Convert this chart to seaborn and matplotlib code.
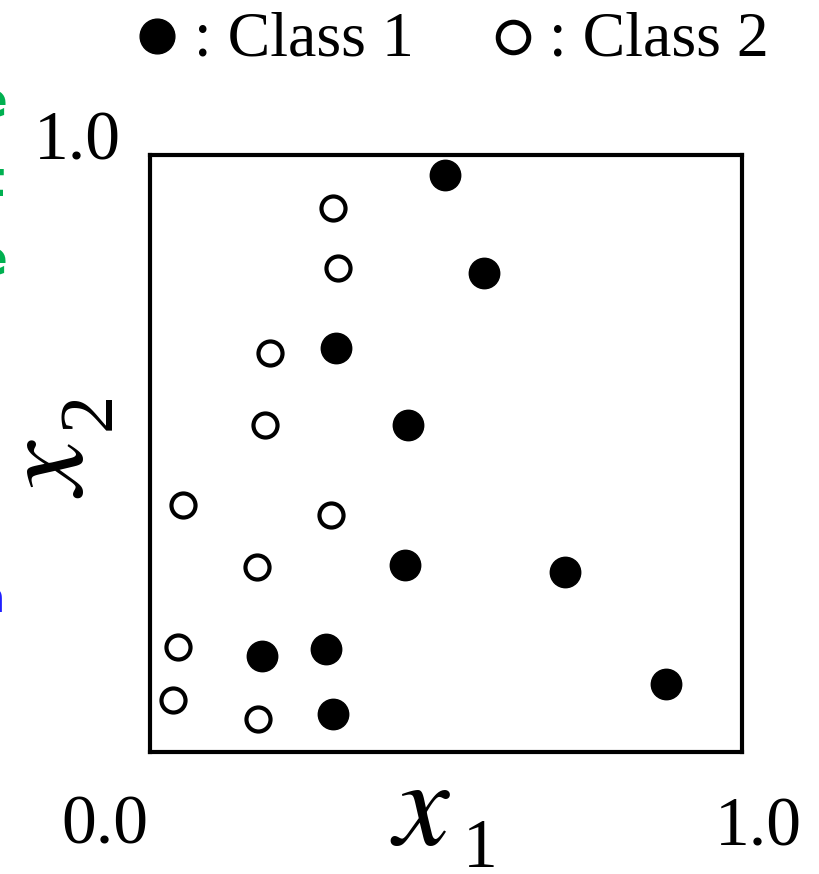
import matplotlib
matplotlib.use("Agg")
import matplotlib.pyplot as plt
import seaborn as sns
import pandas as pd
from matplotlib.lines import Line2D

# Data
class1_x = [0.498, 0.564, 0.314, 0.436, 0.431, 0.701, 0.189, 0.297, 0.872, 0.309]
class1_y = [0.966, 0.802, 0.677, 0.548, 0.313, 0.302, 0.161, 0.173, 0.114, 0.064]
class2_x = [0.309, 0.318, 0.203, 0.194, 0.056, 0.306, 0.181, 0.047, 0.039, 0.182]
class2_y = [0.911, 0.811, 0.668, 0.548, 0.414, 0.397, 0.310, 0.176, 0.087, 0.055]
class_labels = [": Class 1", ": Class 2"]
tick_labels = ["0.0", "1.0"]

sns.set_style("white")
plt.rcParams['font.family'] = ['Liberation Serif', 'DejaVu Serif']
plt.rcParams['mathtext.fontset'] = 'stix'
plt.rcParams['text.color'] = 'black'

W, H = 819, 874
def fx(px):
    return px / W
def fy(py):
    return 1 - py / H

fig = plt.figure(figsize=(8.19, 8.74), dpi=100)
ax = fig.add_axes([fx(150), fy(752), 592 / W, 597 / H])

df1 = pd.DataFrame({"x": class1_x, "y": class1_y})
df2 = pd.DataFrame({"x": class2_x, "y": class2_y})
sns.scatterplot(data=df1, x="x", y="y", ax=ax, s=480, color="black",
                edgecolor="black", linewidth=1, zorder=3)
sns.scatterplot(data=df2, x="x", y="y", ax=ax, s=300, facecolor="white",
                edgecolor="black", linewidth=3.0, zorder=3)

ax.set_xlim(0, 1)
ax.set_ylim(0, 1)
ax.set_xticks([])
ax.set_yticks([])
ax.set_xlabel("")
ax.set_ylabel("")
for sp in ax.spines.values():
    sp.set_visible(True)
    sp.set_color("black")
    sp.set_linewidth(3)

# tick labels
fig.text(fx(77), fy(160), tick_labels[1], ha="center", va="baseline", fontsize=50)
fig.text(fx(105), fy(843), tick_labels[0], ha="center", va="baseline", fontsize=50)
fig.text(fx(758), fy(845), tick_labels[1], ha="center", va="baseline", fontsize=50)

# axis labels: x_1
fig.text(fx(390), fy(845), r"$x$", ha="left", va="baseline", fontsize=90)
fig.text(fx(480), fy(867), "1", ha="center", va="baseline", fontsize=50)
# axis labels: x_2 (rotated)
fig.text(fx(82), fy(498), r"$x$", ha="left", va="baseline", fontsize=88,
         rotation=90, rotation_mode="anchor")
fig.text(fx(110), fy(430), "2", ha="left", va="baseline", fontsize=55,
         rotation=90, rotation_mode="anchor")

# legend
fig.add_artist(Line2D([fx(157)], [fy(36)], transform=fig.transFigure, marker="o",
                      linestyle="", markersize=25, markerfacecolor="black",
                      markeredgecolor="black", markeredgewidth=1))
fig.add_artist(Line2D([fx(513)], [fy(37)], transform=fig.transFigure, marker="o",
                      linestyle="", markersize=22, markerfacecolor="white",
                      markeredgecolor="black", markeredgewidth=3.6))
fig.text(fx(194), fy(56), class_labels[0], ha="left", va="baseline", fontsize=46)
fig.text(fx(549), fy(56), class_labels[1], ha="left", va="baseline", fontsize=46)

# clipped overlay fragments at the left edge
fig.text(fx(8), fy(118), "e", ha="right", va="baseline", color="#00b050",
         fontsize=36, weight="bold", family="DejaVu Sans")
fig.text(fx(4), fy(196), "t", ha="right", va="baseline", color="#00b050",
         fontsize=36, weight="bold", family="DejaVu Sans")
fig.text(fx(8), fy(275), "e", ha="right", va="baseline", color="#00b050",
         fontsize=36, weight="bold", family="DejaVu Sans")
fig.text(fx(5), fy(612), "n", ha="right", va="baseline", color="#2020ff",
         fontsize=30, family="DejaVu Sans")

fig.savefig("out.png", dpi=100)
